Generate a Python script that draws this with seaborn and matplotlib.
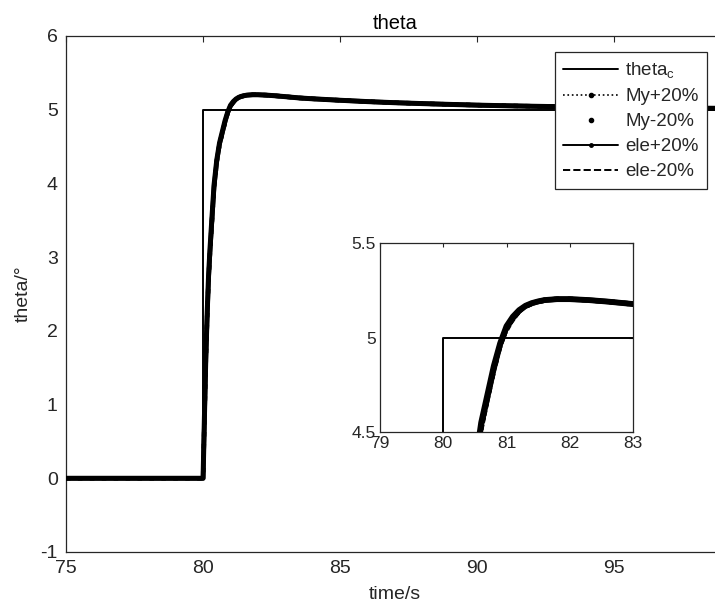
import numpy as np
import pandas as pd
import matplotlib
matplotlib.use("Agg")
import matplotlib.pyplot as plt
import seaborn as sns
from matplotlib.lines import Line2D

# ---- data ----
t_cmd = [75, 80, 80, 99.5]
theta_cmd = [0, 0, 5, 5]

t_resp = [75, 80, 80.05, 80.1, 80.15, 80.2, 80.25, 80.3, 80.4, 80.5, 80.6, 80.7,
          80.8, 80.9, 81.0, 81.1, 81.2, 81.3, 81.4, 81.5, 81.6, 81.8, 82.0, 82.3,
          82.6, 83.0, 83.5, 84, 85, 86, 87, 88, 89, 90, 91, 92, 93, 94, 95, 96,
          97, 98, 99.5]
my_plus = [0, 0, 0.8, 1.6, 2.2, 2.7, 3.05, 3.35, 3.95, 4.30, 4.53, 4.68,
           4.83, 4.96, 5.05, 5.10, 5.14, 5.165, 5.18, 5.19, 5.197, 5.203, 5.203, 5.198,
           5.19, 5.177, 5.16, 5.148, 5.128, 5.11, 5.095, 5.083, 5.072, 5.062, 5.054, 5.047,
           5.041, 5.036, 5.031, 5.027, 5.024, 5.021, 5.017]
my_minus = [0, 0, 0.8, 1.6, 2.2, 2.7, 3.05, 3.35, 3.95, 4.30, 4.53, 4.68,
            4.83, 4.96, 5.05, 5.10, 5.14, 5.165, 5.18, 5.19, 5.197, 5.203, 5.203, 5.198,
            5.19, 5.177, 5.16, 5.148, 5.128, 5.11, 5.095, 5.083, 5.072, 5.062, 5.054, 5.047,
            5.041, 5.036, 5.031, 5.027, 5.024, 5.021, 5.017]
ele_plus = [0, 0, 0.85, 1.65, 2.25, 2.75, 3.1, 3.4, 3.98, 4.32, 4.55, 4.70,
            4.85, 4.97, 5.06, 5.11, 5.145, 5.168, 5.182, 5.191, 5.198, 5.203, 5.203, 5.198,
            5.19, 5.177, 5.16, 5.148, 5.128, 5.11, 5.095, 5.083, 5.072, 5.062, 5.054, 5.047,
            5.041, 5.036, 5.031, 5.027, 5.024, 5.021, 5.017]
ele_minus = [0, 0, 0.75, 1.5, 2.1, 2.6, 2.95, 3.25, 3.85, 4.22, 4.47, 4.63,
             4.79, 4.93, 5.02, 5.08, 5.125, 5.155, 5.175, 5.187, 5.195, 5.202, 5.203, 5.198,
             5.19, 5.177, 5.16, 5.148, 5.128, 5.11, 5.095, 5.083, 5.072, 5.062, 5.054, 5.047,
             5.041, 5.036, 5.031, 5.027, 5.024, 5.021, 5.017]

labels = ["theta$_{\\mathrm{c}}$", "My+20%", "My-20%", "ele+20%", "ele-20%"]
main_xticks = [75, 80, 85, 90, 95]
main_yticks = [-1, 0, 1, 2, 3, 4, 5, 6]
inset_xticks = [79, 80, 81, 82, 83]
inset_yticks = [4.5, 5, 5.5]
inset_yticklabels = ["4.5", "5", "5.5"]

# ---- style ----
sns.set_style("white")
plt.rcParams["font.family"] = ["Liberation Sans", "DejaVu Sans"]
plt.rcParams["mathtext.fontset"] = "custom"
plt.rcParams["mathtext.rm"] = "Liberation Sans"
plt.rcParams["mathtext.it"] = "Liberation Sans:italic"
plt.rcParams["mathtext.bf"] = "Liberation Sans:bold"
plt.rcParams["axes.unicode_minus"] = False

TXT = "#262626"
SP = "#262626"

fig = plt.figure(figsize=(7.15, 6.12), dpi=100)
ax = fig.add_axes([66 / 715, 60 / 612, (724 - 66) / 715, (552 - 36) / 612])


def draw(a, thick):
    sns.lineplot(x=t_cmd, y=theta_cmd, ax=a, color="black", lw=1.4,
                 estimator=None, sort=False, zorder=2)
    sns.lineplot(x=t_resp, y=ele_plus, ax=a, color="black", lw=thick,
                 estimator=None, sort=False, zorder=3)
    sns.lineplot(x=t_resp, y=my_plus, ax=a, color="black", lw=thick * 0.9,
                 ls=":", estimator=None, sort=False, zorder=3)
    sns.lineplot(x=t_resp, y=my_minus, ax=a, color="black", lw=thick * 0.9,
                 estimator=None, sort=False, zorder=3)
    sns.lineplot(x=t_resp, y=ele_minus, ax=a, color="black", lw=1.0,
                 ls="--", estimator=None, sort=False, zorder=4)


draw(ax, 3.6)
ax.set_xlim(75, 99)
ax.set_ylim(-1, 6)
ax.set_xticks(main_xticks)
ax.set_yticks(main_yticks)
ax.tick_params(direction="in", top=True, right=True, length=4, width=0.8,
               labelsize=14, colors=SP, labelcolor=TXT, pad=6)
for s in ax.spines.values():
    s.set_color(SP)
    s.set_linewidth(0.9)
ax.set_title("theta", fontsize=14.5, color="black", pad=5)
ax.set_xlabel("time/s", fontsize=14, color=TXT, labelpad=6)
ax.set_ylabel("theta/°", fontsize=14, color=TXT, labelpad=6)

# legend (figure-level so it sits inside visible area)
handles = [
    Line2D([], [], color="black", lw=1.4),
    Line2D([], [], color="black", lw=1.2, ls=":", marker=".", markersize=6),
    Line2D([], [], color="black", lw=0, marker=".", markersize=6),
    Line2D([], [], color="black", lw=1.4, marker=".", markersize=5),
    Line2D([], [], color="black", lw=1.4, ls="--"),
]
leg = fig.legend(handles, labels, loc="upper right",
                 bbox_to_anchor=(707 / 715, 1 - 52 / 612), fontsize=13.5,
                 frameon=True, fancybox=False, edgecolor="#262626", framealpha=1,
                 handlelength=2.9, handletextpad=0.4, labelspacing=0.42,
                 borderpad=0.45, numpoints=1, borderaxespad=0)
leg.get_frame().set_linewidth(0.9)

# inset
axi = fig.add_axes([380 / 715, (612 - 432) / 612, (633 - 380) / 715, (432 - 243) / 612])
draw(axi, 4.2)
axi.set_xlim(79, 83)
axi.set_ylim(4.5, 5.5)
axi.set_xticks(inset_xticks)
axi.set_yticks(inset_yticks)
axi.set_yticklabels(inset_yticklabels)
axi.tick_params(direction="in", top=True, right=True, length=3, width=0.8,
                labelsize=12.5, colors=SP, labelcolor=TXT, pad=3)
for s in axi.spines.values():
    s.set_color(SP)
    s.set_linewidth(0.9)
axi.set_xlabel("")
axi.set_ylabel("")

fig.savefig("out.png", dpi=100)
